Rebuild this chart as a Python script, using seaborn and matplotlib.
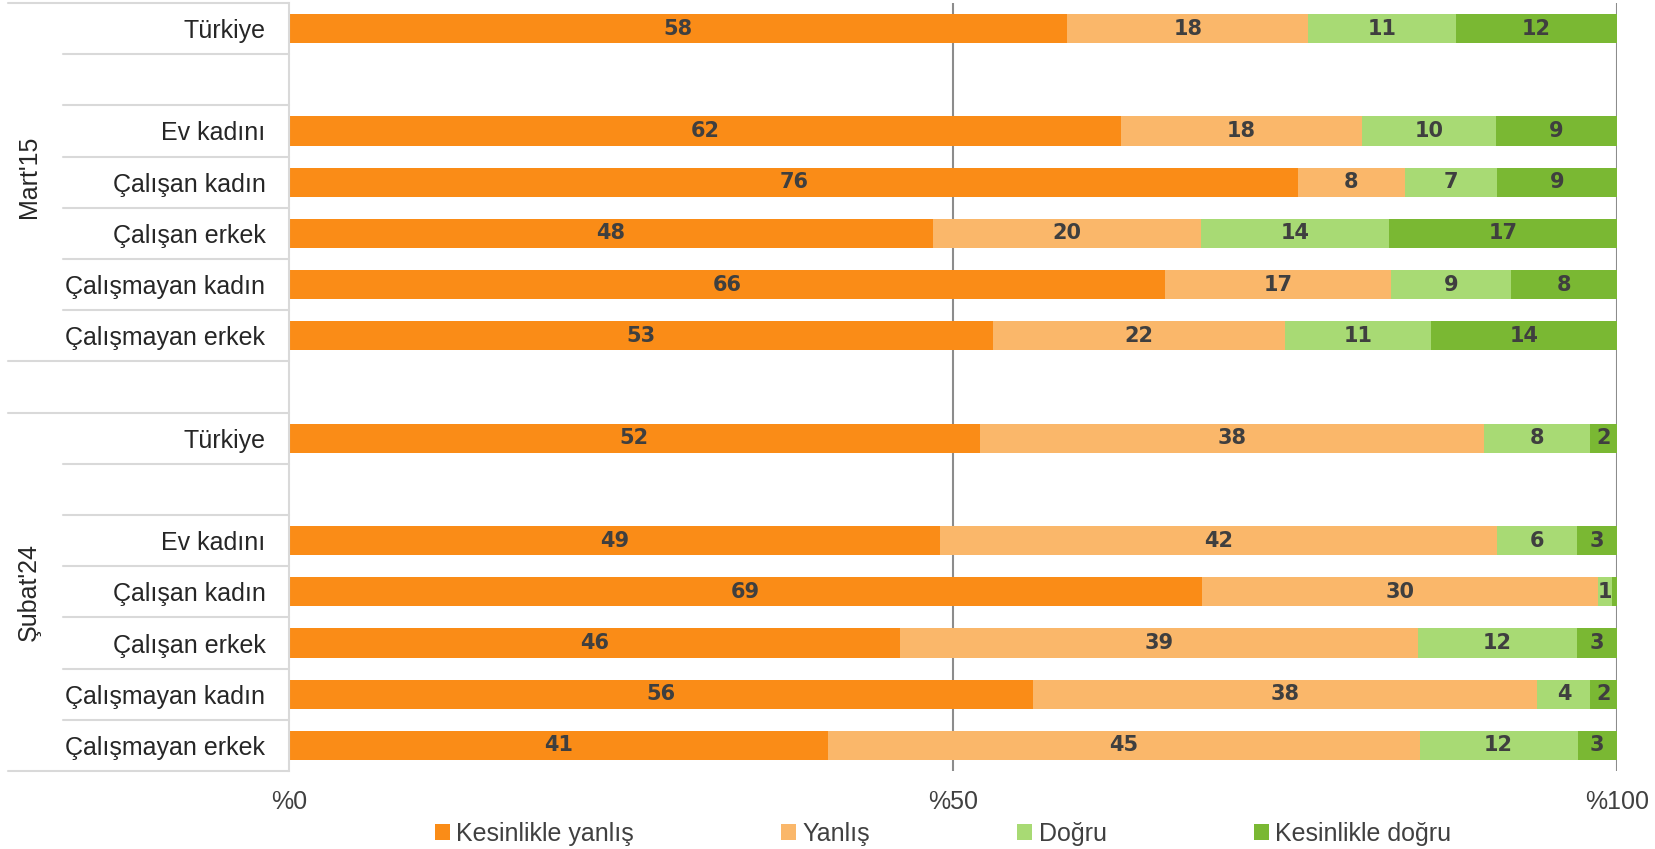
import numpy as np
import pandas as pd
import seaborn as sns
import matplotlib.pyplot as plt
import matplotlib.transforms as mtransforms
from matplotlib.patches import Patch

# ---- data ---------------------------------------------------------------
groups = ["Mart'15", "Şubat'24"]
row_labels = [
    "Türkiye", "", "Ev kadını", "Çalışan kadın", "Çalışan erkek",
    "Çalışmayan kadın", "Çalışmayan erkek",
    "",
    "Türkiye", "", "Ev kadını", "Çalışan kadın", "Çalışan erkek",
    "Çalışmayan kadın", "Çalışmayan erkek",
]
series = ["Kesinlikle yanlış", "Yanlış", "Doğru", "Kesinlikle doğru"]
nan = np.nan
kesinlikle_yanlis = [58, nan, 62, 76, 48, 66, 53, nan, 52, nan, 49, 69, 46, 56, 41]
yanlis            = [18, nan, 18,  8, 20, 17, 22, nan, 38, nan, 42, 30, 39, 38, 45]
dogru             = [11, nan, 10,  7, 14,  9, 11, nan,  8, nan,  6,  1, 12,  4, 12]
kesinlikle_dogru  = [12, nan,  9,  9, 17,  8, 14, nan,  2, nan,  3, 0.4, 3,  2,  3]

colors = ["#FA8C17", "#FAB76A", "#A8DA74", "#7AB833"]

# ---- table: shares normalised to 100 and cumulative ends -----------------
df = pd.DataFrame({
    "pos": np.arange(len(row_labels)),
    "label": row_labels,
    series[0]: kesinlikle_yanlis,
    series[1]: yanlis,
    series[2]: dogru,
    series[3]: kesinlikle_dogru,
}).dropna()
total = df[series].sum(axis=1)
for s in series:
    df["share_" + s] = df[s] / total * 100
cum = df[["share_" + s for s in series]].cumsum(axis=1)
for i, s in enumerate(series):
    df["end_" + s] = cum.iloc[:, i]
    df["start_" + s] = cum.iloc[:, i] - df["share_" + s]

# ---- figure -------------------------------------------------------------
sns.set_style("white")
plt.rcParams["font.family"] = ["Liberation Sans", "DejaVu Sans"]

fig = plt.figure(figsize=(16.55, 8.49), dpi=100)
ax = fig.add_axes([289 / 1655, 1 - 771 / 849, 1328 / 1655, 768 / 849])

# stacked bars: draw cumulative ends from the outermost segment inwards
for i in range(len(series) - 1, -1, -1):
    sns.barplot(data=df, x="end_" + series[i], y="pos", orient="h",
                native_scale=True, color=colors[i], saturation=1,
                width=0.57, errorbar=None, ax=ax, linewidth=0)

# value labels
for _, r in df.iterrows():
    for s in series:
        v = r[s]
        if v >= 0.5:
            cx = r["start_" + s] + r["share_" + s] / 2
            ax.text(cx, r["pos"], f"{v:.0f}", ha="center", va="center",
                    fontsize=15, fontweight="bold", color="#3F3F3F",
                    family="DejaVu Sans")

n_rows = len(row_labels)
ax.set_ylim(n_rows - 0.5, -0.5)
ax.set_xlim(0, 100)

# axes cosmetics
for side in ("top", "bottom", "right"):
    ax.spines[side].set_visible(False)
ax.spines["left"].set_color("#D9D9D9")
ax.spines["left"].set_linewidth(1.5)
for gx in (50, 100):
    ax.axvline(gx, color="#8C8C8C", lw=1.5, zorder=0)

ax.set_xticks([0, 50, 100])
ax.set_xticklabels(["%0", "%50", "%100"])
ax.tick_params(axis="x", length=0, pad=14, labelsize=18, labelcolor="#404040")

lab = df[df["label"] != ""]
ax.set_yticks(lab["pos"].tolist())
ax.set_yticklabels(lab["label"].tolist())
ax.tick_params(axis="y", length=0, pad=17, labelsize=18, labelcolor="#262626")
ax.set_xlabel("")
ax.set_ylabel("")

# category-axis divider lines and group labels
trans = mtransforms.blended_transform_factory(ax.transAxes, ax.transData)
long_lines = [-0.5, 6.5, 7.5, 14.5]
short_lines = [0.5, 1.5, 2.5, 3.5, 4.5, 5.5, 8.5, 9.5, 10.5, 11.5, 12.5, 13.5]
for y in long_lines:
    ax.plot([-0.2116, 0], [y, y], transform=trans, clip_on=False,
            color="#D9D9D9", lw=1.5)
for y in short_lines:
    ax.plot([-0.170, 0], [y, y], transform=trans, clip_on=False,
            color="#D9D9D9", lw=1.5)

ax.text(-0.196, 2.9, groups[0], transform=trans, rotation=90,
        ha="center", va="center", fontsize=18, color="#262626")
ax.text(-0.196, 11.0, groups[1], transform=trans, rotation=90,
        ha="center", va="center", fontsize=18, color="#262626")

# legend
handles = [Patch(facecolor=c, edgecolor="none", label=s) for c, s in zip(colors, series)]
fig.legend(handles=handles, loc="center", bbox_to_anchor=(943 / 1655, 1 - 834 / 849),
           ncol=4, frameon=False, fontsize=18, handlelength=0.6, handleheight=0.6,
           handletextpad=0.25, columnspacing=5.9, labelcolor="#404040")

fig.savefig("out.png", dpi=100)
